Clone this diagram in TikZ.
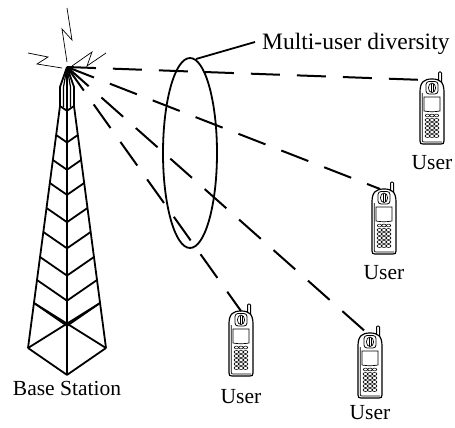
\documentclass[tikz,border=0pt]{standalone}
\usepackage{fontspec}
\setmainfont{Liberation Serif}
\begin{document}
\begin{tikzpicture}[x=1pt,y=-1pt,
  tower/.style={line width=1.8pt,line join=round},
  bolt/.style={line width=0.7pt},
  link/.style={line width=2pt,dash pattern=on 29pt off 17pt},
  label/.style={inner sep=0pt,font=\fontsize{21.5}{24}\selectfont},
  phone/.pic={
    % antenna stub
    \draw[line width=1pt,rounded corners=1pt] (18.5,3) -- (18.5,-6) -- (21.5,-6) -- (21.5,5);
    % casing
    \draw[line width=1.2pt,fill=white] (0,14) .. controls (0,4) and (4,1) .. (12,1)
      .. controls (20,1) and (24,4) .. (24,14) -- (24,63)
      .. controls (24,65.5) and (23,66) .. (21,66) -- (3,66)
      .. controls (1,66) and (0,65.5) .. (0,63) -- cycle;
    \draw[line width=0.7pt] (2.2,15) -- (2.2,62) .. controls (2.2,63.6) and (2.8,64) .. (4,64) -- (22,64);
    % earpiece
    \draw[line width=0.8pt,rounded corners=3pt] (6,3.5) rectangle (18,16);
    \draw[line width=0.7pt] (12,9.8) ellipse (3.6 and 4.8);
    \draw[line width=0.6pt] (11,5.8) -- (11,13.8) (13,5.8) -- (13,13.8);
    % display
    \draw[line width=0.7pt] (4,19) -- (20,19) -- (20,33) .. controls (14,34) and (10,34) .. (4,33) -- cycle;
    % soft keys and keypad
    \foreach \kx in {7.5,12,16.5}{
      \draw[line width=0.6pt] (\kx,37.5) ellipse (2.2 and 1.4);
      \foreach \ky in {42,46,50,54,58}
        \draw[line width=0.6pt] (\kx,\ky) ellipse (2.4 and 1.5);
    }
  }]
\useasboundingbox (0,0) rectangle (455,428);

% ---------- base station tower ----------
\coordinate (bs) at (67,67);
\draw[tower] (60,106) -- (28,348);
\draw[tower] (74,106) -- (106,348);
\draw[tower] (bs) -- (67,375);
\foreach \ly in {106,135,160,183,208,232,257,280,303,348}{
  \pgfmathsetmacro{\hw}{7+(\ly-106)*32/242}
  \pgfmathsetmacro{\fy}{\ly+0.69*\hw}
  \draw[tower] (67-\hw,\ly) -- (67,\fy) -- (67+\hw,\ly);
}
\pgfmathsetmacro{\xw}{7+(303-106)*32/242}
\draw[tower] (28,348) -- (67+\xw,303);
\draw[tower] (106,348) -- (67-\xw,303);
% antenna head
\draw[tower] (bs) -- (60,87) -- (60,106);
\draw[tower] (bs) -- (74,87) -- (74,106);
\draw[line width=1.2pt] (bs) -- (63.5,87) -- (63.5,107);
\draw[line width=1.2pt] (bs) -- (70.5,87) -- (70.5,107);

% radiation zigzags
\draw[bolt] (67,8) -- (72,40) -- (62,29) -- (67,62);
\draw[bolt] (28,53) -- (48,57) -- (37,64) -- (62,68);
\draw[bolt] (72,66) -- (92,52) -- (87,66) -- (106,53);

% ---------- users ----------
\pic at (420,78) {phone};
\pic at (372,188) {phone};
\pic at (229,310) {phone};
\pic at (358,332) {phone};
\coordinate (u1) at (424,80);
\coordinate (u2) at (380,189);
\coordinate (u3) at (241,311);
\coordinate (u4) at (367,333);

\node[label] (t1) at (432,163) {User};
\node[label] (t2) at (384,273) {User};
\node[label] (t3) at (241,397) {User};
\node[label] (t4) at (370,413) {User};
\node[label] (tb) at (67,388) {Base Station};

% ---------- links ----------
\draw[link] (bs) -- (u1);
\draw[link] (bs) -- (u2);
\draw[link] (bs) -- (u3);
\draw[link] (bs) -- (u4);

% ---------- diversity group ----------
\draw[line width=1.8pt] (190,153) ellipse (27 and 95);
\coordinate (e1) at (196,59);
\node[inner sep=0pt,anchor=base west,font=\fontsize{23.5}{26}\selectfont] (md) at (262,50) {Multi-user diversity};
\draw[line width=1.8pt] (e1) -- (255,42);
\end{tikzpicture}
\end{document}
